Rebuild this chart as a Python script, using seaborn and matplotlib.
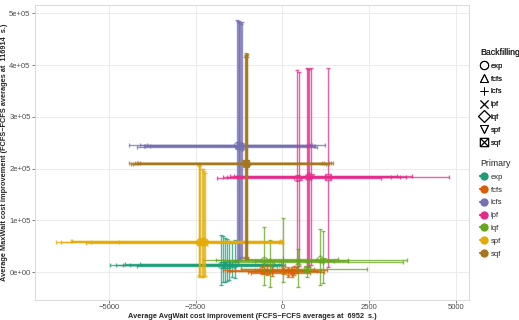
import matplotlib
matplotlib.use('Agg')
import matplotlib.pyplot as plt
from matplotlib.lines import Line2D
from matplotlib.path import Path
import numpy as np
import pandas as pd
import seaborn as sns

primaries = ['exp', 'fcfs', 'lcfs', 'lpf', 'lqf', 'spf', 'sqf']
backfills = ['exp', 'fcfs', 'lcfs', 'lpf', 'lqf', 'spf', 'sqf']

# one row per (primary, backfill), primary-major order
x_mean = [-1760, -1650, -1550, -1450, -1380, -1700, -1600,     # exp
          -590, -450, -300, 20, 150, 270, 330,                 # fcfs
          -1320, -1280, -1240, -1200, -1160, -1260, -1220,     # lcfs
          431, 490, 718, 747, 780, 816, 1300,                  # lpf
          -517, -353, 29, 460, 1083, 1160, 700,                # lqf
          -2414, -2365, -2299, -2221, -2400, -2330, -2260,     # spf
          -1043, -1060, -1030, -1050, -1020, -1070, -1040]     # sqf
x_low = [-4980, -4800, -4520, -4180, -4100, -4600, -4400,
         -1700, -1600, -1500, -1200, -1000, -900, -800,
         -4430, -4000, -3900, -3800, -4200, -4100, -3950,
         -1870, -1700, -1500, -1600, -1400, -1300, -1200,
         -1900, -1700, -2280, -1500, -1000, -800, -1200,
         -6531, -6388, -6100, -5670, -5500, -6050, -4700,
         -4430, -4300, -4200, -4100, -4350, -4250, -4150]
x_high = [80, 20, -50, -150, -250, 0, -100,
          1276, 1100, 1000, 900, 1200, 800, 700,
          1227, 900, 800, 700, 1000, 850, 950,
          2836, 3115, 3287, 3555, 3718, 4799, 3400,
          1897, 1500, 3575, 3477, 1600, 1900, 2443,
          0, -30, -60, 10, -100, -20, 20,
          1466, 1300, 1200, 1350, 1250, 1400, 1150]
y_mean = [14000, 13000, 15000, 12000, 16000, 14500, 13500,
          4000, 3000, 2000, 5000, 1000, -2000, 4500,
          245000, 243000, 246000, 244000, 242000, 245500, 243500,
          182000, 184000, 185000, 183000, 186000, 184500, 183500,
          24000, 22000, 23000, 20000, 26000, 22000, 5000,
          58000, 59000, 60000, 57000, 58500, 59500, 58000,
          210000, 209000, 211000, 210500, 209500, 210000, 211500]
y_low = [-25000, -19000, -15000, -9000, -12000, -20000, -17000,
         -4000, -5000, -7000, -3000, -9000, -10000, -5000,
         20000, 22000, 25000, 30000, 28000, 24000, 26000,
         10000, 12000, 9000, 11000, 10000, 13000, 10000,
         -25000, -28000, -19000, -28000, -25000, -22000, -10000,
         -9000, -8000, -10000, -7000, -6000, -9500, -8500,
         27000, 25000, 30000, 28000, 26000, 29000, 27000]
y_high = [71600, 66000, 60000, 56000, 62000, 70000, 64000,
          12000, 11000, 10000, 13000, 9000, 6000, 12000,
          487000, 485000, 483000, 480000, 484000, 486000, 482000,
          391000, 387000, 395000, 392000, 393000, 394000, 395000,
          88000, 62000, 104000, 44500, 83000, 80000, 20000,
          207000, 210000, 199000, 192000, 205000, 200000, 195000,
          424000, 420000, 415000, 418000, 422000, 416000, 419000]

df = pd.DataFrame({
    'primary': np.repeat(primaries, len(backfills)),
    'backfill': backfills * len(primaries),
    'x': x_mean, 'xlo': x_low, 'xhi': x_high,
    'y': y_mean, 'ylo': y_low, 'yhi': y_high,
})

sns.set_style('white')
plt.rcParams['font.family'] = ['Liberation Sans', 'DejaVu Sans']

palette = dict(zip(primaries, sns.color_palette('Dark2', 7)))

# ggplot style "square with a cross" marker
sq_cross = Path([(-1, -1), (1, -1), (1, 1), (-1, 1), (-1, -1),
                 (-1, -1), (1, 1), (-1, 1), (1, -1)],
                [Path.MOVETO, Path.LINETO, Path.LINETO, Path.LINETO, Path.CLOSEPOLY,
                 Path.MOVETO, Path.LINETO, Path.MOVETO, Path.LINETO])
markers = dict(zip(backfills, ['o', '^', '+', 'x', 'D', 'v', sq_cross]))
msizes = dict(zip(backfills, [4.5, 4.5, 5.5, 4.5, 4, 4.5, 4.5]))

fig = plt.figure(figsize=(5.19, 3.2), dpi=100)
ax = fig.add_axes([35 / 519, 20 / 320, 434 / 519, 295 / 320])

for _, r in df.iterrows():
    col = palette[r['primary']]
    ax.errorbar(r['x'], r['y'],
                xerr=[[r['x'] - r['xlo']], [r['xhi'] - r['x']]],
                yerr=[[r['y'] - r['ylo']], [r['yhi'] - r['y']]],
                fmt='none', ecolor=col, elinewidth=1.0, capsize=1.6,
                capthick=1.0, alpha=0.75)
for _, r in df.iterrows():
    col = palette[r['primary']]
    ax.plot(r['x'], r['y'], linestyle='none', marker=markers[r['backfill']],
            markersize=msizes[r['backfill']], markerfacecolor='none',
            markeredgecolor=col, markeredgewidth=0.8, alpha=0.8)

ax.set_xlim(-7126, 5374)
ax.set_ylim(-54000, 516000)
ax.set_xticks([-5000, -2500, 0, 2500, 5000],
              ['\u22125000', '\u22122500', '0', '2500', '5000'])
ax.set_yticks([0, 100000, 200000, 300000, 400000, 500000],
              ['0e+00', '1e+05', '2e+05', '3e+05', '4e+05', '5e+05'])
ax.tick_params(labelsize=5.5, colors='#4D4D4D', length=2.2, width=0.5,
               direction='out', pad=1.0, bottom=True, left=True)
ax.grid(True, color='#EBEBEB', linewidth=0.7)
ax.set_axisbelow(True)
for s in ax.spines.values():
    s.set_color('#D9D9D9')
    s.set_linewidth(0.7)

ax.set_xlabel('Average AvgWait cost improvement (FCFS\u2212FCFS averages at  6952  s.)',
              fontsize=5.3, fontweight='bold', labelpad=0.8)
ax.set_ylabel('Average MaxWait cost improvement (FCFS\u2212FCFS averages at  116914  s.)',
              fontsize=5.3, fontweight='bold', labelpad=0.8)

bf_handles = [Line2D([], [], linestyle='none', marker=markers[b], markersize=6,
                     markerfacecolor='none', markeredgecolor='black',
                     markeredgewidth=0.7) for b in backfills]
pr_handles = [Line2D([], [], color=palette[p], linewidth=1.6, marker='o',
                     markersize=5) for p in primaries]

leg1 = fig.legend(bf_handles, backfills, title='Backfilling', loc='upper left',
                  bbox_to_anchor=(476 / 519, 1 - 44 / 320), frameon=False,
                  fontsize=5.5, title_fontsize=6.3, handlelength=1.0,
                  handletextpad=0.45, labelspacing=0.72, borderpad=0,
                  alignment='left')
fig.add_artist(leg1)
leg2 = fig.legend(pr_handles, primaries, title='Primary', loc='upper left',
                  bbox_to_anchor=(476 / 519, 1 - 155 / 320), frameon=False,
                  fontsize=5.5, title_fontsize=6.3, handlelength=1.0,
                  handletextpad=0.45, labelspacing=0.72, borderpad=0,
                  alignment='left')

fig.savefig('out.png', dpi=100)
